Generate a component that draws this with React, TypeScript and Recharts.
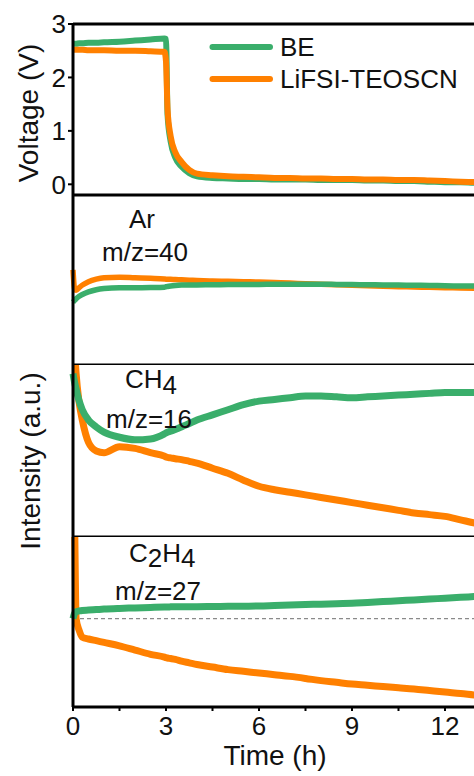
import { LineChart, Line, XAxis, YAxis, ReferenceLine, Legend } from 'recharts'

const FONT = '"Liberation Sans", Arial, Helvetica, sans-serif'
const GREEN = '#3aae6b'
const ORANGE = '#ff8000'

// shared time grid (h)
const time = [0, 0.05, 0.1, 0.2, 0.3, 0.5, 0.75, 1, 1.5, 2, 2.5, 2.95, 3.0, 3.05, 3.15, 3.3, 3.5, 3.75, 4, 4.5, 5, 5.5, 6, 6.5, 7, 7.5, 8, 8.5, 9, 9.5, 10, 10.5, 11, 11.5, 12, 12.5, 13, 13.5, 14]

// voltage (V)
const voltageBE = [2.63, 2.63, 2.63, 2.64, 2.64, 2.65, 2.65, 2.66, 2.67, 2.69, 2.71, 2.73, 2.72, 1.3, 0.8, 0.5, 0.33, 0.21, 0.15, 0.12, 0.11, 0.1, 0.1, 0.09, 0.09, 0.09, 0.08, 0.08, 0.08, 0.07, 0.07, 0.06, 0.06, 0.05, 0.04, 0.04, 0.03, 0.03, 0.02]
const voltageLiFSI = [2.52, 2.52, 2.52, 2.52, 2.52, 2.51, 2.51, 2.51, 2.5, 2.5, 2.49, 2.48, 2.3, 1.4, 0.9, 0.6, 0.42, 0.27, 0.2, 0.17, 0.15, 0.14, 0.13, 0.12, 0.12, 0.11, 0.11, 0.1, 0.1, 0.09, 0.09, 0.08, 0.08, 0.07, 0.06, 0.05, 0.04, 0.03, 0.03]

// MS intensities (a.u., 0-100 within each panel)
const arBE = [37, 38, 39, 40.5, 41.5, 43, 44.3, 45, 45.5, 45.5, 45.6, 45.8, 46, 46.2, 46.5, 46.8, 47, 47, 47.1, 47.2, 47.3, 47.4, 47.4, 47.5, 47.5, 47.5, 47.5, 47.4, 47.3, 47.2, 47.1, 47, 46.9, 46.8, 46.6, 46.5, 46.4, 46.3, 46.2]
const arLiFSI = [56, 45, 44, 45.5, 47, 49, 50.5, 51.3, 51.6, 51.3, 51, 50.6, 50.5, 50.5, 50.4, 50.3, 50.1, 49.9, 49.7, 49.4, 49.2, 49, 48.8, 48.5, 48.2, 47.8, 47.5, 47.2, 46.9, 46.6, 46.3, 46.1, 45.9, 45.7, 45.5, 45.3, 45.1, 45, 44.9]
const ch4BE = [95, 90, 86, 79, 74, 68, 64, 61, 58, 56.5, 57, 60, 60.5, 61, 61.5, 62.5, 64, 66, 68, 71, 74, 77, 79, 80, 81, 82, 82, 81.5, 81, 81.5, 82, 82.5, 83, 83.5, 84, 84, 84, 84.5, 84.5]
const ch4LiFSI = [130, 110, 95, 78, 68, 55, 50, 49, 52.5, 51.5, 49, 47, 46.5, 46.3, 46, 45.5, 45, 44, 43, 40, 37, 33, 29.5, 27.5, 26, 24.5, 23, 21.5, 20, 18.5, 17, 15.5, 14, 13, 12, 10, 8, 7, 6]
const c2h4BE = [52, 55, 56, 56.5, 56.8, 57, 57.3, 57.6, 58, 58.3, 58.6, 58.8, 58.8, 58.8, 58.9, 59, 59, 59, 59, 59.1, 59.2, 59.3, 59.4, 59.7, 60, 60.3, 60.5, 60.8, 61, 61.5, 62, 62.5, 63, 63.5, 64, 64.5, 65, 65.5, 66]
const c2h4LiFSI = [140, 110, 52, 45, 41, 40, 39, 38, 36, 33.5, 31, 29.3, 29, 28.8, 28.5, 28, 27, 26, 25, 23.5, 22, 21, 20, 19, 18, 16.8, 15.5, 14.5, 13.5, 12.8, 12, 11.3, 10.6, 9.7, 8.8, 8, 7, 6.3, 5.8]
const c2h4Baseline = 52

const timeTicks = [0, 1.5, 3, 4.5, 6, 7.5, 9, 10.5, 12, 13.5]
const voltageTicks = [0, 1, 2, 3]

const rows = time.map((t, i) => ({
  t,
  vBE: voltageBE[i],
  vLi: voltageLiFSI[i],
  arBE: arBE[i],
  arLi: arLiFSI[i],
  ch4BE: ch4BE[i],
  ch4Li: ch4LiFSI[i],
  c2h4BE: c2h4BE[i],
  c2h4Li: c2h4LiFSI[i],
}))

const W = 507
const AXIS = { stroke: '#000', strokeWidth: 3 }

function renderLegend() {
  const items = [
    { name: 'BE', color: GREEN },
    { name: 'LiFSI-TEOSCN', color: ORANGE },
  ]
  return (
    <div style={{ fontFamily: FONT }}>
      {items.map((it) => (
        <div key={it.name} style={{ display: 'flex', alignItems: 'center', height: 32 }}>
          <svg width={68} height={10} style={{ marginRight: 4 }}>
            <line x1={4.5} y1={5} x2={62} y2={5} stroke={it.color} strokeWidth={6} strokeLinecap="round" />
          </svg>
          <span style={{ fontSize: 26, color: '#111', whiteSpace: 'nowrap' }}>{it.name}</span>
        </div>
      ))}
    </div>
  )
}

function hiddenX() {
  return <XAxis dataKey="t" type="number" domain={[0, 14]} hide />
}

function gasY() {
  return (
    <YAxis type="number" domain={[0, 100]} allowDataOverflow tick={false} tickLine={false} width={73} axisLine={AXIS} />
  )
}

export default function App() {
  const margin = { top: 0, right: 0, bottom: 0, left: 0 }
  return (
    <div style={{ position: 'absolute', left: 0, top: 0, width: 474, height: 776, overflow: 'hidden', background: '#fff' }}>
      <div style={{ position: 'absolute', left: 0, top: 195 }}>
        <LineChart width={W} height={170} data={rows} margin={margin}>
          {hiddenX()}
          {gasY()}
          <ReferenceLine y={0} stroke="#000" strokeWidth={3} />
          <Line type="monotone" dataKey="arLi" stroke={ORANGE} strokeWidth={5.5} dot={false} isAnimationActive={false} />
          <Line type="monotone" dataKey="arBE" stroke={GREEN} strokeWidth={5.5} dot={false} isAnimationActive={false} />
        </LineChart>
      </div>

      <div style={{ position: 'absolute', left: 0, top: 365 }}>
        <LineChart width={W} height={172} data={rows} margin={margin}>
          {hiddenX()}
          {gasY()}
          <ReferenceLine y={0} stroke="#000" strokeWidth={3} />
          <Line type="monotone" dataKey="ch4Li" stroke={ORANGE} strokeWidth={7} dot={false} isAnimationActive={false} />
          <Line type="monotone" dataKey="ch4BE" stroke={GREEN} strokeWidth={7} dot={false} isAnimationActive={false} />
        </LineChart>
      </div>

      <div style={{ position: 'absolute', left: 0, top: 537 }}>
        <LineChart width={W} height={239} data={rows} margin={margin}>
          <XAxis
            dataKey="t"
            type="number"
            domain={[0, 14]}
            ticks={timeTicks}
            interval={0}
            height={69}
            tickSize={4}
            tickMargin={6}
            axisLine={AXIS}
            tickLine={{ stroke: '#000', strokeWidth: 2 }}
            tick={{ fontSize: 26, fill: '#111', fontFamily: FONT }}
            tickFormatter={(v: number) => (v % 3 === 0 ? String(v) : '')}
          />
          {gasY()}
          <ReferenceLine y={c2h4Baseline} stroke="#8a8a8a" strokeWidth={1.2} strokeDasharray="4 3" />
          <Line type="monotone" dataKey="c2h4Li" stroke={ORANGE} strokeWidth={7} dot={false} isAnimationActive={false} />
          <Line type="monotone" dataKey="c2h4BE" stroke={GREEN} strokeWidth={7} dot={false} isAnimationActive={false} />
        </LineChart>
      </div>

      {/* voltage panel last so its tick labels sit above the panel below */}
      <div style={{ position: 'absolute', left: 0, top: 0 }}>
        <LineChart width={W} height={203} data={rows} margin={{ ...margin, top: 24, bottom: 8 }}>
          {hiddenX()}
          <YAxis
            type="number"
            domain={[-0.2, 3]}
            ticks={voltageTicks}
            interval={0}
            width={73}
            tickSize={5}
            axisLine={AXIS}
            tickLine={{ stroke: '#000', strokeWidth: 2 }}
            tick={{ fontSize: 26, fill: '#111', fontFamily: FONT }}
          />
          <ReferenceLine y={3} stroke="#000" strokeWidth={3} />
          <ReferenceLine y={-0.2} stroke="#000" strokeWidth={3} />
          <Legend
            layout="vertical"
            align="center"
            verticalAlign="middle"
            content={renderLegend}
            wrapperStyle={{ left: 208, top: 31, width: 270 }}
          />
          <Line type="monotone" dataKey="vBE" stroke={GREEN} strokeWidth={6} dot={false} isAnimationActive={false} />
          <Line type="monotone" dataKey="vLi" stroke={ORANGE} strokeWidth={6} dot={false} isAnimationActive={false} />
        </LineChart>
      </div>

      {/* titles and panel annotations */}
      <svg width={474} height={776} style={{ position: 'absolute', left: 0, top: 0, pointerEvents: 'none' }} fontFamily={FONT} fill="#111">
        <text x={38} y={113} fontSize={28} textAnchor="middle" transform="rotate(-90 38 113)">Voltage (V)</text>
        <text x={40} y={461} fontSize={28} textAnchor="middle" transform="rotate(-90 40 461)">Intensity (a.u.)</text>
        <text x={275} y={765} fontSize={28} textAnchor="middle">Time (h)</text>

        <text x={142} y={228} fontSize={26} textAnchor="middle">Ar</text>
        <text x={145} y={261} fontSize={26} textAnchor="middle">m/z=40</text>

        <text x={125} y={388} fontSize={26}>CH<tspan dy={6}>4</tspan></text>
        <text x={149} y={428} fontSize={26} textAnchor="middle">m/z=16</text>

        <text x={129} y={562} fontSize={26}>C<tspan dy={5}>2</tspan><tspan dy={-5}>H</tspan><tspan dy={5}>4</tspan></text>
        <text x={158} y={600} fontSize={26} textAnchor="middle">m/z=27</text>
      </svg>
    </div>
  )
}
